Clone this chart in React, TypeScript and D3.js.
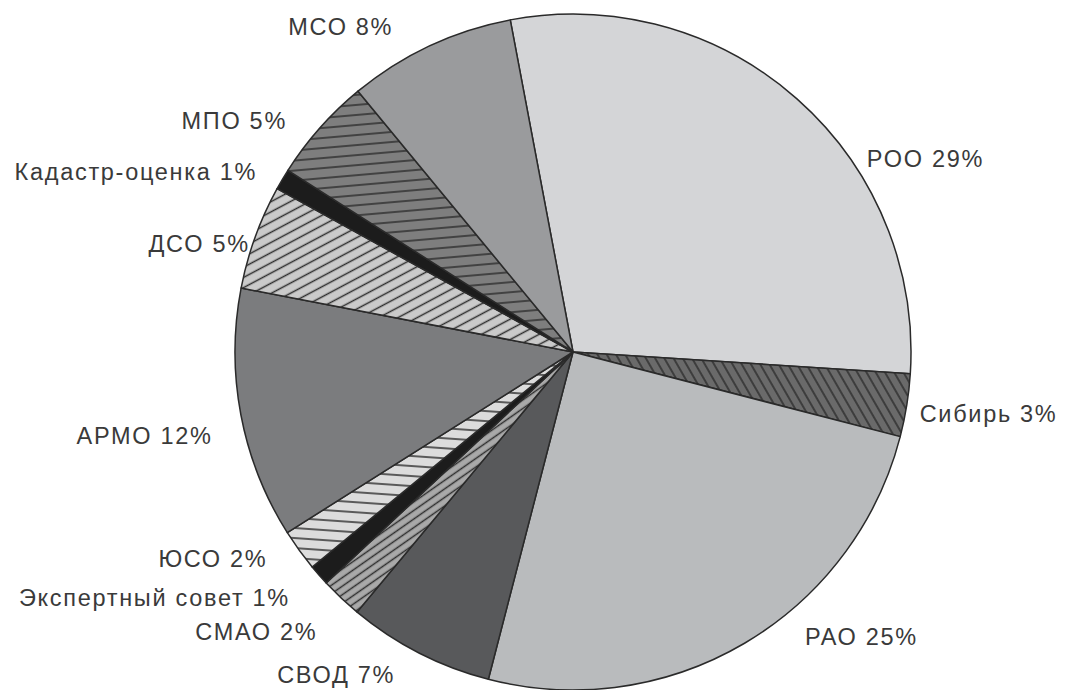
import * as d3 from "d3";
import React from "react";

// shares, clockwise from the top
const names = [
  "РОО",
  "Сибирь",
  "РАО",
  "СВОД",
  "СМАО",
  "Экспертный совет",
  "ЮСО",
  "АРМО",
  "ДСО",
  "Кадастр-оценка",
  "МПО",
  "МСО",
];
const shares = [29, 3, 25, 7, 2, 1, 2, 12, 5, 1, 5, 8];

// where each label sits: angle (deg, clockwise from top) and distance from the centre
const labelAngle = [56.6, 100.0, 140.8, 208.9, 222.4, 229.0, 235.9, 256.9, 288.6, 299.8, 309.0, 331.1];
const labelDist = [352, 352, 367, 368, 379, 375, 369, 370, 341, 364, 368, 372];

const fills = [
  "#d4d5d7",
  "url(#hatch-sib)",
  "#b9bbbd",
  "#58595b",
  "url(#hatch-smao)",
  "#1c1c1c",
  "url(#hatch-yuso)",
  "#7b7c7e",
  "url(#hatch-dso)",
  "#1c1c1c",
  "url(#hatch-mpo)",
  "#9a9b9d",
];

const W = 1071;
const H = 690;
const cx = 573;
const cy = 352;
const R = 338;
const rad = Math.PI / 180;

function Hatch({ id, base, gap, angle }) {
  return (
    <pattern
      id={id}
      patternUnits="userSpaceOnUse"
      width={20}
      height={gap}
      patternTransform={`rotate(${angle})`}
    >
      <rect width={20} height={gap} fill={base} />
      <line x1={0} x2={20} y1={gap / 2} y2={gap / 2} stroke="#2e2e2e" strokeWidth={1.5} />
    </pattern>
  );
}

export default function App() {
  const start = -10.7 * rad;
  const pie = d3
    .pie<number>()
    .sort(null)
    .value((d) => d)
    .startAngle(start)
    .endAngle(start + 2 * Math.PI);
  const arcs = pie(shares);
  const arc = d3.arc<d3.PieArcDatum<number>>().innerRadius(0).outerRadius(R);

  return (
    <svg
      width={W}
      height={H}
      style={{ position: "absolute", left: 0, top: 0, background: "#fff" }}
    >
      <defs>
        <Hatch id="hatch-sib" base="#6a6a6a" gap={8} angle={60} />
        <Hatch id="hatch-smao" base="#a9a9a9" gap={7} angle={-35} />
        <Hatch id="hatch-yuso" base="#dcdcdc" gap={10} angle={4} />
        <Hatch id="hatch-dso" base="#cacaca" gap={9} angle={-28} />
        <Hatch id="hatch-mpo" base="#7e7e7e" gap={10} angle={-5} />
      </defs>
      <g transform={`translate(${cx},${cy})`}>
        {arcs.map((a, i) => (
          <path
            key={names[i]}
            d={arc(a) || ""}
            fill={fills[i]}
            stroke="#2a2a2a"
            strokeWidth={1.5}
            strokeLinejoin="round"
          />
        ))}
      </g>
      <g fontFamily="'Liberation Sans', Arial, sans-serif" fontSize={23.5} fill="#3a3a3a" letterSpacing={1.7}>
        {names.map((n, i) => {
          const ang = labelAngle[i] * rad;
          const x = cx + labelDist[i] * Math.sin(ang);
          const y = cy - labelDist[i] * Math.cos(ang);
          const right = labelAngle[i] < 180;
          return (
            <text
              key={n}
              x={x}
              y={y}
              dy="0.36em"
              textAnchor={right ? "start" : "end"}
            >
              {`${n} ${shares[i]}%`}
            </text>
          );
        })}
      </g>
    </svg>
  );
}
